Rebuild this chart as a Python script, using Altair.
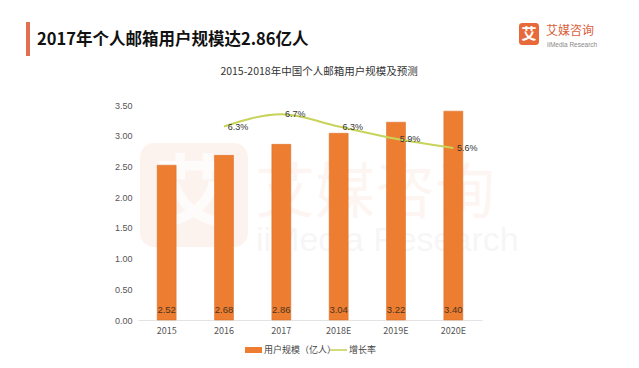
import altair as alt
import pandas as pd

years = ["2015", "2016", "2017", "2018E", "2019E", "2020E"]
users = [2.52, 2.68, 2.86, 3.04, 3.22, 3.40]
user_labels = ["2.52", "2.68", "2.86", "3.04", "3.22", "3.40"]
growth_years = ["2016", "2017", "2018E", "2019E", "2020E"]
growth = [0.063, 0.067, 0.063, 0.059, 0.056]
growth_labels = ["6.3%", "6.7%", "6.3%", "5.9%", "5.6%"]

title_text = "2017年个人邮箱用户规模达2.86亿人"
subtitle_text = "2015-2018年中国个人邮箱用户规模及预测"
legend_bar = "用户规模（亿人）"
legend_line = "增长率"

FONT = "Noto Sans CJK SC"
ORANGE = "#ED7D31"
LINE = "#C8D35A"

bars_df = pd.DataFrame({"year": years, "users": users, "label": user_labels})
line_df = pd.DataFrame({"year": growth_years, "growth": growth, "label": growth_labels})
one = pd.DataFrame({"a": [0]})

xenc = alt.X("year:N", sort=years,
             axis=alt.Axis(title=None, labelAngle=0, ticks=False, labelPadding=6,
                           labelFontSize=9, labelColor="#555", labelFont=FONT,
                           domainColor="#e3e3e3"),
             scale=alt.Scale(paddingInner=0.2, paddingOuter=0.1))

# watermark
wm_box = alt.Chart(one).mark_rect(cornerRadius=14, color="#F08A5D", opacity=0.10).encode(
    x=alt.value(2), x2=alt.value(110), y=alt.value(38), y2=alt.value(142))
wm_ai = alt.Chart(one).mark_text(text="艾", font=FONT, fontSize=80, color="white",
                                 opacity=0.8, fontWeight="bold").encode(
    x=alt.value(56), y=alt.value(92))
wm_cn = alt.Chart(one).mark_text(text="艾媒咨询", font=FONT, fontSize=60, color="#F08A5D",
                                 opacity=0.08, align="left").encode(
    x=alt.value(117), y=alt.value(90))
wm_en = alt.Chart(one).mark_text(text="iiMedia Research", font="Liberation Sans", fontSize=34,
                                 color="#999", opacity=0.08, align="left").encode(
    x=alt.value(118), y=alt.value(136))

bars = alt.Chart(bars_df).mark_bar(size=19, color=ORANGE, stroke="#D96A22", strokeWidth=0.5).encode(
    x=xenc,
    y=alt.Y("users:Q", scale=alt.Scale(domain=[0, 3.5]),
            axis=alt.Axis(title=None, orient="left", values=[0, 0.5, 1, 1.5, 2, 2.5, 3, 3.5],
                          format=".2f", domain=False, ticks=False, grid=False,
                          labelFontSize=9, labelColor="#555", labelPadding=6,
                          labelFont="Liberation Sans")),
)
bar_text = alt.Chart(bars_df).mark_text(fontSize=9.5, color="#4a3520", font="Liberation Sans").encode(
    x=alt.X("year:N", sort=years), y=alt.value(205), text="label:N")

line = alt.Chart(line_df).mark_line(color=LINE, strokeWidth=2, interpolate="monotone").encode(
    x=alt.X("year:N", sort=years),
    y=alt.Y("growth:Q", scale=alt.Scale(domain=[0, 0.07]),
            axis=alt.Axis(title=None, orient="right", values=[0, 0.01, 0.02, 0.03, 0.04, 0.05, 0.06, 0.07],
                          labelExpr="datum.value == 0 ? '0' : format(datum.value, '.2f')",
                          domain=False, ticks=False, grid=False,
                          labelFontSize=9, labelColor="#555", labelPadding=18,
                          labelFont="Liberation Sans")),
)
line_text = alt.Chart(line_df).mark_text(fontSize=9, color="#333", dx=14, dy=0,
                                         font="Liberation Sans").encode(
    x=alt.X("year:N", sort=years),
    y=alt.Y("growth:Q", scale=alt.Scale(domain=[0, 0.07]), axis=None),
    text="label:N")

# titles and branding
accent = alt.Chart(one).mark_rect(color="#E07050").encode(
    x=alt.value(-112), x2=alt.value(-108), y=alt.value(-83), y2=alt.value(-49))
title = alt.Chart(one).mark_text(text=title_text, font=FONT, fontSize=16.5, fontWeight="bold",
                                 color="#111", align="left", baseline="middle").encode(
    x=alt.value(-101), y=alt.value(-65))
subtitle = alt.Chart(one).mark_text(text=subtitle_text, font=FONT, fontSize=10.5,
                                    color="#333", align="center", baseline="middle").encode(
    x=alt.value(181), y=alt.value(-33))
logo_box = alt.Chart(one).mark_rect(color="#E8693A", cornerRadius=3).encode(
    x=alt.value(381), x2=alt.value(401), y=alt.value(-82), y2=alt.value(-60))
logo_ai = alt.Chart(one).mark_text(text="艾", font=FONT, fontSize=15, fontWeight="bold",
                                   color="white", baseline="middle").encode(
    x=alt.value(391), y=alt.value(-71))
logo_cn = alt.Chart(one).mark_text(text="艾媒咨询", font=FONT, fontSize=12, color="#D9603B",
                                   align="left", baseline="middle").encode(
    x=alt.value(408), y=alt.value(-74))
logo_en = alt.Chart(one).mark_text(text="iiMedia Research", font="Liberation Sans", fontSize=6.5,
                                   color="#888", align="left", baseline="middle").encode(
    x=alt.value(409), y=alt.value(-60))

# legend
leg_rect = alt.Chart(one).mark_rect(color=ORANGE).encode(
    x=alt.value(107), x2=alt.value(124), y=alt.value(242), y2=alt.value(248))
leg_t1 = alt.Chart(one).mark_text(text=legend_bar, font=FONT, fontSize=9, color="#444",
                                  align="left", baseline="middle").encode(
    x=alt.value(126), y=alt.value(245))
leg_line = alt.Chart(one).mark_rule(color=LINE, strokeWidth=1.6).encode(
    x=alt.value(192), x2=alt.value(209), y=alt.value(245))
leg_t2 = alt.Chart(one).mark_text(text=legend_line, font=FONT, fontSize=9, color="#444",
                                  align="left", baseline="middle").encode(
    x=alt.value(211), y=alt.value(245))

main = alt.layer(bars, bar_text).resolve_scale(y="shared")
growth_layer = alt.layer(line, line_text)

chart = alt.layer(
    wm_box, wm_ai, wm_cn, wm_en,
    main, growth_layer,
    accent, title, subtitle, logo_box, logo_ai, logo_cn, logo_en,
    leg_rect, leg_t1, leg_line, leg_t2,
).resolve_scale(y="independent").properties(
    width=344, height=215,
    autosize=alt.AutoSizeParams(type="none"),
    padding={"left": 130, "top": 97, "right": 149, "bottom": 40},
    background="white",
).configure_view(stroke=None)

chart.save("out.html", embed_options={"renderer": "svg", "actions": False})
